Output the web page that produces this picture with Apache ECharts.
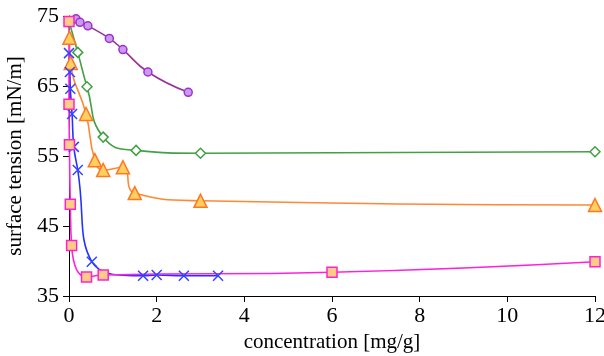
<!DOCTYPE html>
<html>
<head>
<meta charset="utf-8">
<script src="https://cdn.jsdelivr.net/npm/echarts@6/dist/echarts.min.js"></script>
<style>
  html, body { margin: 0; padding: 0; background: #fff; }
  #chart { width: 604px; height: 356px; }
</style>
</head>
<body>
<div id="chart"></div>
<script>
// values, [concentration mg/g, surface tension mN/m]
var purpleData = [[0.05, 74.3], [0.16, 74.6], [0.25, 74.1], [0.43, 73.6], [0.92, 71.8], [1.23, 70.2], [1.8, 67.0], [2.72, 64.1]];
var greenData = [[0.01, 74.0], [0.2, 69.8], [0.41, 64.9], [0.78, 57.7], [1.53, 55.8], [3.0, 55.4], [12, 55.6]];
var orangeData = [[0.01, 71.9], [0.04, 68.3], [0.39, 61.0], [0.59, 54.4], [0.78, 53.0], [1.23, 53.4], [1.5, 49.7], [3.0, 48.6], [12, 48.0]];
var blueData = [[0.0, 69.7], [0.02, 67.0], [0.03, 64.6], [0.07, 61.0], [0.11, 56.3], [0.2, 53.0], [0.52, 39.9], [1.69, 37.9], [2.0, 38.0], [2.62, 37.9], [3.4, 37.9]];
var pinkData = [[0.0, 74.2], [0.0, 62.4], [0.01, 56.6], [0.03, 48.1], [0.06, 42.2], [0.4, 37.7], [0.78, 38.0], [6.0, 38.4], [12, 39.9]];
var xTicks = [0, 12, 2];
var yTicks = [35, 75, 10];

var fontName = "Liberation Serif";
var crossPath = "path://M0,0L10,10M10,0L0,10";

function serie(data, lineColor, symbol, size, fill, border) {
  return {
    type: "line",
    data: data,
    smooth: 0.5,
    symbol: symbol,
    symbolSize: size,
    showAllSymbol: true,
    lineStyle: { color: lineColor, width: 1.6 },
    itemStyle: { color: fill, borderColor: border, borderWidth: 1.5 },
    emphasis: { disabled: true }
  };
}

var mychart = echarts.init(document.getElementById("chart"));
var option = {
  animation: false,
  grid: { left: 69, right: 9, top: 16, bottom: 60, containLabel: false, outerBoundsMode: "none" },
  xAxis: {
    type: "value",
    min: xTicks[0], max: xTicks[1], interval: xTicks[2],
    name: "concentration [mg/g]",
    nameLocation: "middle",
    nameGap: 35,
    nameTextStyle: { fontFamily: fontName, fontSize: 21, color: "#000" },
    axisLine: { show: true, onZero: false, lineStyle: { color: "#000", width: 1 } },
    axisTick: { show: true, length: 6, lineStyle: { color: "#000" } },
    axisLabel: { fontFamily: fontName, fontSize: 22, color: "#000", margin: 9 },
    splitLine: { show: false }
  },
  yAxis: {
    type: "value",
    min: yTicks[0], max: yTicks[1], interval: yTicks[2],
    name: "surface tension [mN/m]",
    nameLocation: "middle",
    nameGap: 41,
    nameTextStyle: { fontFamily: fontName, fontSize: 21, color: "#000" },
    axisLine: { show: true, lineStyle: { color: "#000", width: 1 } },
    axisTick: { show: true, length: 6, lineStyle: { color: "#000" } },
    axisLabel: { fontFamily: fontName, fontSize: 22, color: "#000", margin: 10 },
    splitLine: { show: false }
  },
  series: [
    serie(purpleData, "#993399", "circle", 8, "#cc99ee", "#9933cc"),
    serie(greenData, "#44a044", "diamond", 10, "#ffffff", "#44a044"),
    serie(orangeData, "#ff8833", "triangle", 13, "#ffd060", "#ff7722"),
    serie(blueData, "#2233ff", crossPath, 10, "rgba(0,0,0,0)", "#3344ff"),
    serie(pinkData, "#ff22dd", "rect", 10, "#ffcc88", "#ff22cc")
  ]
};
mychart.setOption(option);
</script>
</body>
</html>
